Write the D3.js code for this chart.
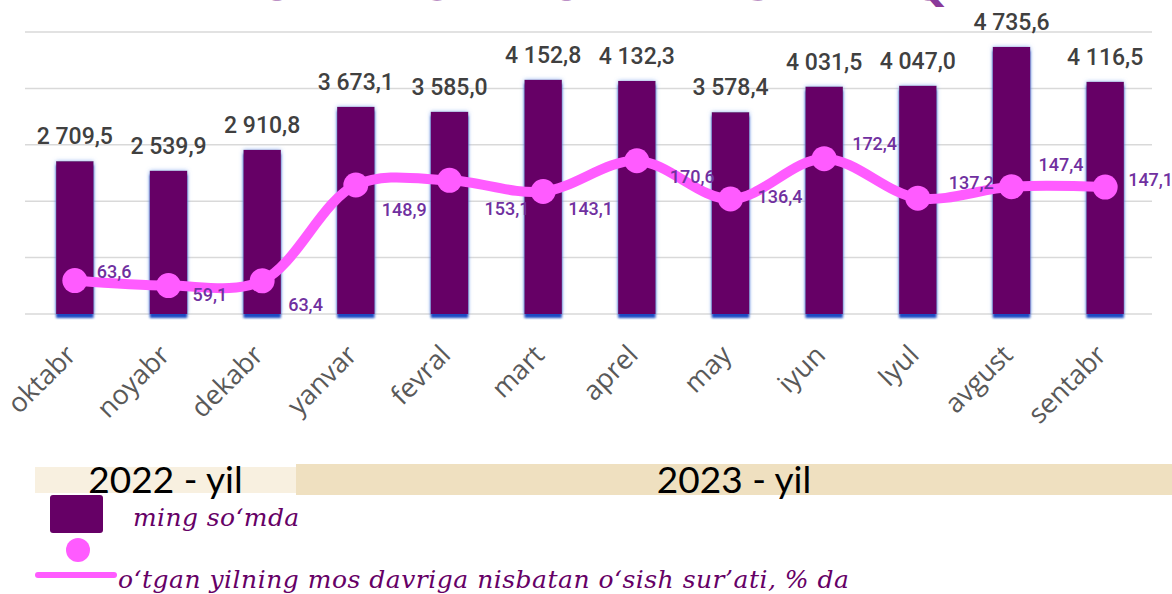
<!DOCTYPE html>
<html>
<head>
<meta charset="utf-8">
<script src="https://cdn.jsdelivr.net/npm/d3@7"></script>
<style>
  html, body { margin: 0; padding: 0; background: #fff; overflow: hidden; }
</style>
</head>
<body>
<div id="canvas"></div>
<script>
// Months on the category axis.
const months = ["oktabr", "noyabr", "dekabr", "yanvar", "fevral", "mart",
                "aprel", "may", "iyun", "Iyul", "avgust", "sentabr"];
// Average wage, thousand so'm (bars).
const wages = [2709.5, 2539.9, 2910.8, 3673.1, 3585.0, 4152.8,
               4132.3, 3578.4, 4031.5, 4047.0, 4735.6, 4116.5];
// Growth against the same period of the previous year, % (line).
const growth = [63.6, 59.1, 63.4, 148.9, 153.1, 143.1,
                170.6, 136.4, 172.4, 137.2, 147.4, 147.1];
// Year groups under the axis.
const years = ["2022 - yil", "2023 - yil"];
// Grid values of the bar axis.
const gridTicks = [0, 1000, 2000, 3000, 4000, 5000];

const titleText = "O\u2018RTACHA OYLIK ISH HAQI";
const legendBar = "ming so\u2018mda";
const legendLine = "o\u2018tgan yilning mos davriga nisbatan o\u2018sish sur\u2019ati, % da";

// Canvas size.
const w = 1172, h = 594;

// Colors.
const BAR_COLOR = "#660066";
const LINE_COLOR = "#ff5bff";
const RATE_LABEL_COLOR = "#7030a0";

// Little nudges that keep the growth labels off the line (dx, dy).
const rateNudge = [[22, -9], [24, 9], [26, 24], [26, 25], [35, 28], [25, 17],
                   [33, 16], [27, -2], [28, -15], [31, -15], [27, -22], [23, -7]];

const svg = d3.select("#canvas")
    .append("svg")
    .attr("width", w)
    .attr("height", h);

// Glow round the bars, darker blue underneath.
const defs = svg.append("defs");
const glow = defs.append("filter")
    .attr("id", "glow")
    .attr("x", "-30%").attr("y", "-10%")
    .attr("width", "160%").attr("height", "125%");
glow.append("feGaussianBlur").attr("in", "SourceAlpha").attr("stdDeviation", 2.2).attr("result", "blur");
glow.append("feFlood").attr("flood-color", "#7aa2ee").attr("flood-opacity", 0.85);
glow.append("feComposite").attr("in2", "blur").attr("operator", "in").attr("result", "halo");
glow.append("feOffset").attr("in", "SourceAlpha").attr("dy", 4).attr("result", "off");
glow.append("feGaussianBlur").attr("in", "off").attr("stdDeviation", 0.8).attr("result", "offBlur");
glow.append("feFlood").attr("flood-color", "#1e4cc4");
glow.append("feComposite").attr("in2", "offBlur").attr("operator", "in").attr("result", "shadow");
const merge = glow.append("feMerge");
merge.append("feMergeNode").attr("in", "halo");
merge.append("feMergeNode").attr("in", "shadow");
merge.append("feMergeNode").attr("in", "SourceGraphic");

// Scales.
const xScale = d3.scaleBand()
    .domain(months)
    .range([28, 1152])
    .paddingInner(0.6)
    .paddingOuter(0.3);

const yScale = d3.scaleLinear()
    .domain([0, 5000])
    .range([314, 32]);

const yRate = d3.scaleLinear()
    .domain([0, 200])
    .range([351.8, 127.8]);

const cx = m => xScale(m) + xScale.bandwidth() / 2;

const fmt = d3.formatLocale({ decimal: ",", thousands: "\u00a0", grouping: [3], currency: ["", ""] })
    .format(",.1f");

// Title, mostly cut off by the top edge (as in the source picture).
svg.append("text")
    .attr("x", 612)
    .attr("y", -0.5)
    .attr("text-anchor", "middle")
    .attr("font-family", "DejaVu Sans, sans-serif")
    .attr("font-weight", "bold")
    .attr("font-size", 48)
    .attr("fill", "#8a3a9a")
    .text(titleText);

// Horizontal grid.
svg.append("g")
    .selectAll("line")
    .data(gridTicks)
    .join("line")
    .attr("x1", 25)
    .attr("x2", 1152)
    .attr("y1", d => yScale(d))
    .attr("y2", d => yScale(d))
    .attr("stroke", "#d9d9d9")
    .attr("stroke-width", 1.5);

// Bars.
svg.append("g")
    .selectAll("rect")
    .data(wages)
    .join("rect")
    .attr("x", (d, i) => xScale(months[i]))
    .attr("y", d => yScale(d))
    .attr("width", xScale.bandwidth())
    .attr("height", d => yScale(0) - yScale(d))
    .attr("fill", BAR_COLOR)
    .attr("filter", "url(#glow)");

// Bar values.
svg.append("g")
    .selectAll("text")
    .data(wages)
    .join("text")
    .attr("x", (d, i) => cx(months[i]))
    .attr("y", d => yScale(d) - 17)
    .attr("text-anchor", "middle")
    .attr("font-family", "Roboto, sans-serif")
    .attr("font-weight", 500)
    .attr("font-size", 23)
    .attr("fill", "#404040")
    .text(d => fmt(d));

// Growth line.
const line = d3.line()
    .x((d, i) => cx(months[i]))
    .y(d => yRate(d))
    .curve(d3.curveCatmullRom.alpha(0.5));

svg.append("path")
    .datum(growth)
    .attr("d", line)
    .attr("fill", "none")
    .attr("stroke", LINE_COLOR)
    .attr("stroke-width", 10)
    .attr("stroke-linecap", "round");

svg.append("g")
    .selectAll("circle")
    .data(growth)
    .join("circle")
    .attr("cx", (d, i) => cx(months[i]))
    .attr("cy", d => yRate(d))
    .attr("r", 12.5)
    .attr("fill", LINE_COLOR);

// Growth values.
svg.append("g")
    .selectAll("text")
    .data(growth)
    .join("text")
    .attr("x", (d, i) => cx(months[i]) + rateNudge[i][0])
    .attr("y", (d, i) => yRate(d) + rateNudge[i][1])
    .attr("dy", "0.35em")
    .attr("font-family", "Roboto, sans-serif")
    .attr("font-weight", 500)
    .attr("font-size", 18)
    .attr("fill", RATE_LABEL_COLOR)
    .text(d => fmt(d));

// Month labels, slanted.
svg.append("g")
    .selectAll("text")
    .data(months)
    .join("text")
    .attr("transform", d => `translate(${cx(d) - 4},350) rotate(-45)`)
    .attr("dy", "0.35em")
    .attr("text-anchor", "end")
    .attr("font-family", "Open Sans, sans-serif")
    .attr("font-size", 27)
    .attr("fill", "#595959")
    .text(d => d);

// Year bands.
const bandEdges = [35, 296, 1172];
const bandColors = ["#f8f0e0", "#efe0c0"];
const bandTops = [467, 464];
const bandBottoms = [493, 495];

const yearG = svg.append("g");
years.forEach((label, i) => {
    yearG.append("rect")
        .attr("x", bandEdges[i])
        .attr("y", bandTops[i])
        .attr("width", bandEdges[i + 1] - bandEdges[i])
        .attr("height", bandBottoms[i] - bandTops[i])
        .attr("fill", bandColors[i]);
    yearG.append("text")
        .attr("x", (bandEdges[i] + bandEdges[i + 1]) / 2)
        .attr("y", 493)
        .attr("text-anchor", "middle")
        .attr("font-family", "Lato, sans-serif")
        .attr("font-size", 37)
        .attr("fill", "#000")
        .text(label);
});

// Legend.
const legend = svg.append("g");
legend.append("rect")
    .attr("x", 50).attr("y", 495)
    .attr("width", 53).attr("height", 38)
    .attr("rx", 3)
    .attr("fill", BAR_COLOR);
legend.append("text")
    .attr("x", 133).attr("y", 526)
    .attr("font-family", "DejaVu Serif, serif")
    .attr("font-style", "italic")
    .attr("font-size", 25)
    .attr("letter-spacing", 0.4)
    .attr("fill", BAR_COLOR)
    .text(legendBar);
legend.append("circle")
    .attr("cx", 78).attr("cy", 550)
    .attr("r", 12)
    .attr("fill", LINE_COLOR);
legend.append("line")
    .attr("x1", 38).attr("x2", 114)
    .attr("y1", 575).attr("y2", 575)
    .attr("stroke", LINE_COLOR)
    .attr("stroke-width", 6)
    .attr("stroke-linecap", "round");
legend.append("text")
    .attr("x", 118).attr("y", 588)
    .attr("font-family", "DejaVu Serif, serif")
    .attr("font-style", "italic")
    .attr("font-size", 25)
    .attr("letter-spacing", 0.5)
    .attr("fill", BAR_COLOR)
    .text(legendLine);
</script>
</body>
</html>
